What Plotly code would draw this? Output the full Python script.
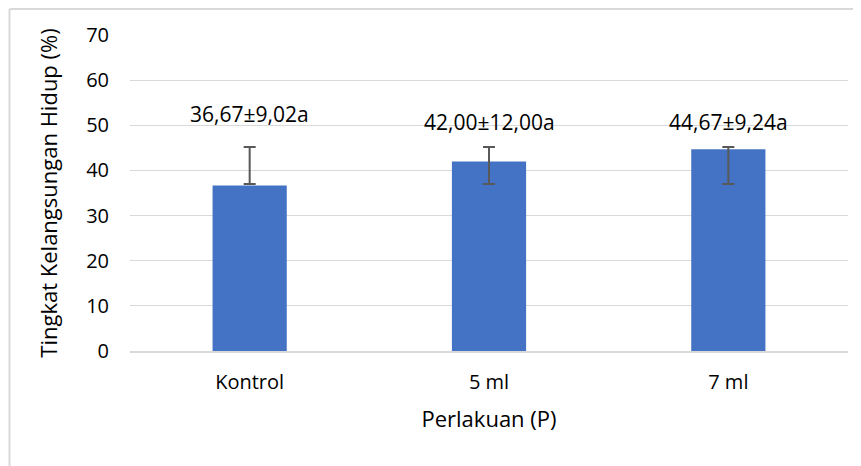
import plotly.graph_objects as go

categories = ["Kontrol", "5 ml", "7 ml"]
values = [36.67, 42.00, 44.67]
labels = ["36,67±9,02a", "42,00±12,00a", "44,67±9,24a"]
err_low = [37.0, 37.0, 37.0]
err_high = [45.2, 45.2, 45.2]
y_ticks = [0, 10, 20, 30, 40, 50, 60, 70]

FONT = "Open Sans"
OFF = 8  # page body margin
W, H = 861 - OFF, 466 - OFF
ML, MR, MT, MB = 130 - OFF, 13, 35 - OFF, 115
PW, PH = W - ML - MR, H - MT - MB

fig = go.Figure()
fig.add_trace(go.Bar(x=categories, y=values, marker=dict(color="#4472C4", line=dict(width=0)),
                     width=0.31, showlegend=False, hoverinfo="skip"))
mid = [(a + b) / 2 for a, b in zip(err_low, err_high)]
half = [(b - a) / 2 for a, b in zip(err_low, err_high)]
fig.add_trace(go.Scatter(x=categories, y=mid, mode="markers", marker=dict(opacity=0, size=1),
                         error_y=dict(type="data", array=half, symmetric=True, color="#595959",
                                      thickness=2, width=6),
                         showlegend=False, hoverinfo="skip"))

label_shift = [10, 2, 2]
for c, lab, hi, s in zip(categories, labels, err_high, label_shift):
    fig.add_annotation(x=c, y=hi, text=lab, showarrow=False, yanchor="bottom", yshift=s + 7,
                       font=dict(family=FONT, size=21, color="#000000"))

def px_x(p):
    return (p - OFF - ML) / PW

def px_y(p):
    return (MT + PH - (p - OFF)) / PH

border = dict(color="#d9d9d9", width=2)
fig.add_shape(type="line", xref="paper", yref="paper",
              x0=px_x(9.5), x1=px_x(861), y0=px_y(9), y1=px_y(9), line=border, layer="below")
fig.add_shape(type="line", xref="paper", yref="paper",
              x0=px_x(9.5), x1=px_x(9.5), y0=px_y(466), y1=px_y(9), line=border, layer="below")

fig.update_layout(
    width=W, height=H,
    margin=dict(l=ML, r=MR, t=MT, b=MB),
    paper_bgcolor="white", plot_bgcolor="white",
    font=dict(family=FONT, size=20, color="#000000"),
    bargap=0.69,
    xaxis=dict(showgrid=False, showline=True, linecolor="#d9d9d9", linewidth=1.5,
               ticks="", tickfont=dict(size=20), ticklabelstandoff=12,
               title=dict(text="Perlakuan (P)", font=dict(size=22), standoff=18)),
    yaxis=dict(range=[0, 70], tickvals=y_ticks, showgrid=True, gridcolor="#d9d9d9", gridwidth=1,
               zeroline=False, showline=False, ticks="", tickfont=dict(size=20),
               ticklabelstandoff=20,
               title=dict(text="Tingkat Kelangsungan Hidup (%)", font=dict(size=22), standoff=22)),
)

fig.write_html("out.html")
